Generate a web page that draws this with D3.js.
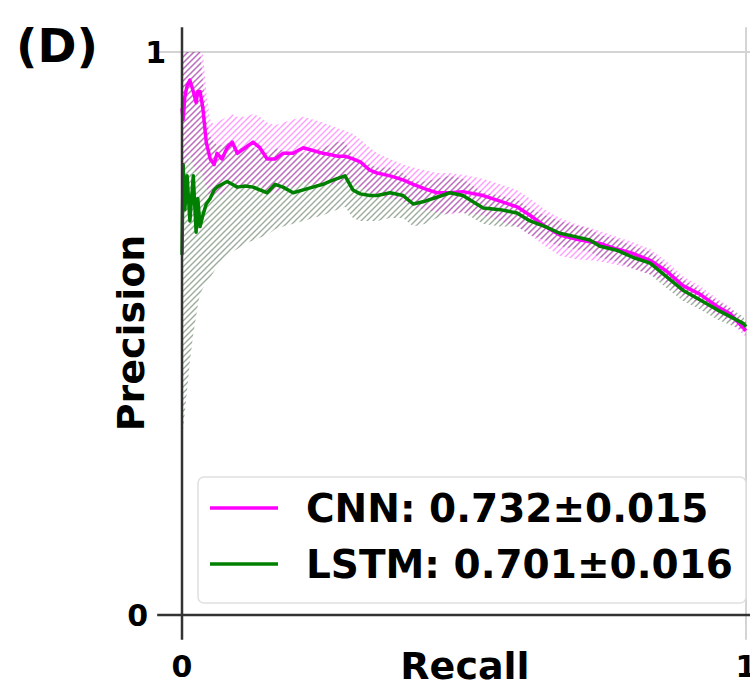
<!DOCTYPE html>
<html><head><meta charset="utf-8">
<script src="https://cdn.jsdelivr.net/npm/d3@7"></script>
<style>html,body{margin:0;padding:0;background:#fff;overflow:hidden}svg{display:block}</style>
</head><body>
<script>
const recall = [0,0.002,0.005,0.009,0.014,0.020,0.025,0.028,0.032,0.037,
0.043,0.050,0.057,0.062,0.071,0.080,0.089,0.098,0.112,0.126,
0.138,0.151,0.165,0.179,0.197,0.215,0.232,0.250,0.262,0.275,
0.289,0.303,0.316,0.333,0.346,0.369,0.392,0.410,0.431,0.452,
0.475,0.498,0.534,0.564,0.594,0.617,0.644,0.670,0.697,0.723,
0.741,0.771,0.800,0.830,0.860,0.888,0.918,0.949,0.972,0.995,1.0];

const cnnPrecision = [0.90,0.88,0.92,0.94,0.95,0.93,0.91,0.93,0.93,0.90,
0.84,0.81,0.80,0.82,0.81,0.83,0.84,0.82,0.83,0.84,
0.83,0.81,0.81,0.82,0.82,0.83,0.825,0.82,0.818,0.815,
0.815,0.81,0.805,0.79,0.785,0.78,0.773,0.765,0.757,0.75,
0.75,0.752,0.745,0.735,0.725,0.71,0.69,0.675,0.668,0.663,
0.66,0.65,0.642,0.63,0.61,0.585,0.57,0.548,0.535,0.51,0.505];
const cnnUpper = [1.0,1.0,1.0,1.0,1.0,1.0,1.0,1.0,1.0,1.0,
0.93,0.88,0.87,0.875,0.88,0.885,0.89,0.885,0.885,0.89,
0.885,0.875,0.87,0.875,0.88,0.885,0.88,0.875,0.87,0.865,
0.86,0.855,0.845,0.83,0.82,0.81,0.8,0.795,0.79,0.785,
0.785,0.782,0.775,0.765,0.755,0.74,0.72,0.705,0.695,0.688,
0.682,0.672,0.662,0.65,0.628,0.602,0.585,0.562,0.547,0.52,0.512];
const cnnLower = [0.80,0.78,0.80,0.80,0.82,0.80,0.78,0.79,0.79,0.78,
0.76,0.74,0.74,0.75,0.745,0.76,0.77,0.755,0.76,0.765,
0.765,0.75,0.75,0.755,0.76,0.77,0.765,0.765,0.765,0.765,
0.77,0.765,0.76,0.75,0.745,0.74,0.735,0.725,0.72,0.715,
0.712,0.715,0.71,0.7,0.69,0.675,0.655,0.638,0.632,0.63,
0.628,0.622,0.615,0.605,0.59,0.568,0.553,0.532,0.522,0.498,0.495];

const lstmPrecision = [0.64,0.80,0.72,0.78,0.70,0.78,0.68,0.74,0.69,0.71,
0.73,0.74,0.755,0.76,0.765,0.77,0.765,0.76,0.762,0.76,
0.755,0.75,0.765,0.76,0.75,0.755,0.76,0.765,0.77,0.775,
0.78,0.755,0.748,0.745,0.745,0.75,0.745,0.73,0.735,0.742,
0.75,0.745,0.723,0.72,0.714,0.70,0.69,0.678,0.672,0.666,
0.655,0.648,0.635,0.625,0.60,0.577,0.56,0.542,0.53,0.518,0.512];
const lstmUpper = [1.0,1.0,1.0,1.0,1.0,1.0,1.0,1.0,1.0,0.95,
0.88,0.85,0.84,0.835,0.835,0.84,0.835,0.83,0.83,0.83,
0.825,0.82,0.83,0.825,0.82,0.82,0.825,0.83,0.835,0.84,
0.84,0.815,0.805,0.8,0.795,0.795,0.785,0.77,0.77,0.775,
0.78,0.775,0.75,0.745,0.738,0.722,0.71,0.7,0.692,0.686,
0.675,0.668,0.655,0.645,0.62,0.597,0.578,0.558,0.545,0.53,0.52];
const lstmLower = [0.35,0.33,0.36,0.40,0.45,0.50,0.53,0.55,0.57,0.58,
0.59,0.60,0.61,0.62,0.63,0.64,0.645,0.65,0.66,0.665,
0.67,0.675,0.685,0.69,0.695,0.70,0.705,0.71,0.715,0.72,
0.725,0.705,0.70,0.70,0.70,0.705,0.705,0.69,0.695,0.705,
0.715,0.715,0.695,0.69,0.69,0.675,0.665,0.655,0.65,0.645,
0.635,0.628,0.615,0.605,0.58,0.558,0.543,0.525,0.515,0.505,0.503];

const legendLabels = ["CNN: 0.732\u00b10.015", "LSTM: 0.701\u00b10.016"];
const seriesColors = ["#ff00ff", "#008000"];
const xTicks = [0, 1];
const yTicks = [0, 1];

const W = 750, H = 688;
const svg = d3.select("body").append("svg").attr("width", W).attr("height", H);
const font = "DejaVu Sans, sans-serif";

const x = d3.scaleLinear().domain([0, 1]).range([182, 746]);
const y = d3.scaleLinear().domain([0, 1]).range([615, 52]);
const ext = 0.044;

const defs = svg.append("defs");
function hatch(id, color, op) {
  const p = defs.append("pattern").attr("id", id).attr("patternUnits", "userSpaceOnUse")
    .attr("width", 6).attr("height", 6);
  p.append("path").attr("d", "M-1,1 l2,-2 M0,6 l6,-6 M5,7 l2,-2")
    .attr("stroke", color).attr("stroke-opacity", op).attr("stroke-width", 1.4);
}
hatch("hCnn", "#ff00ff", 0.38);
hatch("hLstm", "#3a5a3a", 0.5);

// grid lines at 1
svg.append("line").attr("x1", x(-ext)).attr("x2", W).attr("y1", y(1)).attr("y2", y(1))
  .attr("stroke", "#d4d4d4").attr("stroke-width", 2);
svg.append("line").attr("x1", x(1)).attr("x2", x(1)).attr("y1", y(1 + ext)).attr("y2", y(-ext))
  .attr("stroke", "#d4d4d4").attr("stroke-width", 2);

const idx = d3.range(recall.length);
const area = (lo, hi) => d3.area().x(i => x(recall[i])).y0(i => y(lo[i])).y1(i => y(hi[i]))(idx);
const line = (v) => d3.line().x(i => x(recall[i])).y(i => y(v[i]))(idx);

svg.append("path").attr("d", area(lstmLower, lstmUpper)).attr("fill", "url(#hLstm)");
svg.append("path").attr("d", area(cnnLower, cnnUpper)).attr("fill", "url(#hCnn)");
svg.append("path").attr("d", line(cnnPrecision)).attr("fill", "none").attr("stroke", seriesColors[0])
  .attr("stroke-width", 3.5).attr("stroke-linejoin", "round");
svg.append("path").attr("d", line(lstmPrecision)).attr("fill", "none").attr("stroke", seriesColors[1])
  .attr("stroke-width", 3.5).attr("stroke-linejoin", "round");

// spines
svg.append("line").attr("x1", x(0)).attr("x2", x(0)).attr("y1", y(1 + ext)).attr("y2", y(-ext))
  .attr("stroke", "#333").attr("stroke-width", 2.5);
svg.append("line").attr("x1", x(-ext)).attr("x2", W).attr("y1", y(0)).attr("y2", y(0))
  .attr("stroke", "#333").attr("stroke-width", 2.5);

// tick labels
svg.selectAll(".xt").data(xTicks).enter().append("text")
  .attr("x", d => x(d)).attr("y", 677).attr("text-anchor", "middle")
  .attr("font-family", font).attr("font-weight", "bold").attr("font-size", 30).attr("fill", "#000")
  .text(d => d);
svg.selectAll(".yt").data(yTicks).enter().append("text")
  .attr("x", d => d === 1 ? 166 : 148).attr("y", d => y(d) + 11).attr("text-anchor", "end")
  .attr("font-family", font).attr("font-weight", "bold").attr("font-size", 30).attr("fill", "#000")
  .text(d => d);

// axis titles
svg.append("text").attr("x", 465).attr("y", 679).attr("text-anchor", "middle")
  .attr("font-family", font).attr("font-weight", "bold").attr("font-size", 38).attr("fill", "#000").text("Recall");
svg.append("text").attr("transform", "translate(144,333) rotate(-90)").attr("text-anchor", "middle")
  .attr("font-family", font).attr("font-weight", "bold").attr("font-size", 38).attr("fill", "#000").text("Precision");
svg.append("text").attr("x", 16).attr("y", 62)
  .attr("font-family", font).attr("font-weight", "bold").attr("font-size", 47).attr("fill", "#000").text("(D)");

// legend
svg.append("rect").attr("x", 198).attr("y", 477).attr("width", 548).attr("height", 126).attr("rx", 6)
  .attr("fill", "#fff").attr("fill-opacity", 0.85).attr("stroke", "#e0e0e0").attr("stroke-width", 1.5);
const lg = svg.selectAll(".lg").data(legendLabels).enter().append("g")
  .attr("transform", (d, i) => `translate(0,${508 + i * 56})`);
lg.append("line").attr("x1", 210).attr("x2", 278).attr("y1", 0).attr("y2", 0)
  .attr("stroke", (d, i) => seriesColors[i]).attr("stroke-width", 3.5);
lg.append("text").attr("x", 306).attr("y", 14)
  .attr("font-family", font).attr("font-weight", "bold").attr("font-size", 39).attr("fill", "#000").text(d => d);
</script>
</body></html>
